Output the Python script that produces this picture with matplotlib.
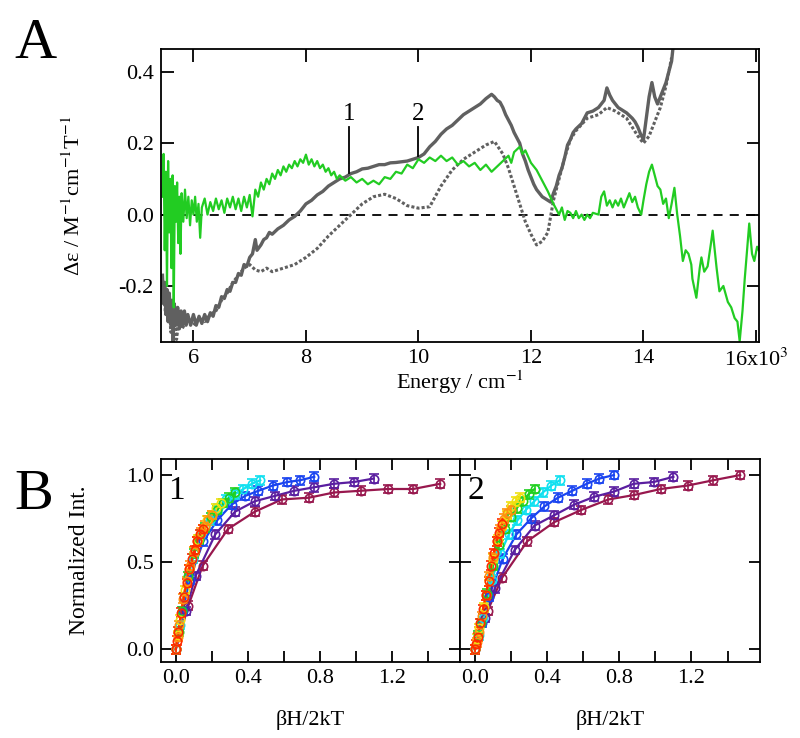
import matplotlib
matplotlib.use("Agg")
import matplotlib.pyplot as plt
from matplotlib.ticker import MultipleLocator

plt.rcParams['font.family'] = ['Liberation Serif', 'DejaVu Serif']
plt.rcParams['mathtext.fontset'] = 'stix'

# ---- panel A: MCD spectra, (energy / 10^3 cm-1, delta eps) pairs ----
solid_pts = [(5.45, -0.17), (5.47, -0.25), (5.49, -0.19), (5.51, -0.28), (5.53, -0.21),
             (5.55, -0.30), (5.57, -0.22), (5.6, -0.31), (5.62, -0.24), (5.64, -0.36),
             (5.66, -0.25), (5.69, -0.31), (5.72, -0.26), (5.75, -0.32), (5.78, -0.27),
             (5.81, -0.31), (5.84, -0.27), (5.87, -0.31), (5.9, -0.28), (5.95, -0.31),
             (6.0, -0.28), (6.05, -0.31), (6.1, -0.285), (6.15, -0.305), (6.2, -0.28),
             (6.25, -0.30), (6.3, -0.275), (6.35, -0.285), (6.4, -0.255), (6.45, -0.26),
             (6.5, -0.23), (6.55, -0.235), (6.6, -0.21), (6.65, -0.215), (6.7, -0.19),
             (6.75, -0.19), (6.8, -0.165), (6.85, -0.17), (6.9, -0.14), (6.95, -0.145),
             (7.0, -0.12), (7.05, -0.11), (7.1, -0.07), (7.13, -0.10), (7.2, -0.085),
             (7.25, -0.07), (7.3, -0.065), (7.35, -0.05), (7.4, -0.055), (7.5, -0.04),
             (7.6, -0.03), (7.7, -0.015), (7.8, -0.005), (7.9, 0.01), (8.0, 0.03),
             (8.1, 0.04), (8.2, 0.055), (8.3, 0.065), (8.4, 0.08), (8.5, 0.09),
             (8.6, 0.10), (8.7, 0.105), (8.8, 0.115), (8.9, 0.12), (9.0, 0.128),
             (9.1, 0.13), (9.2, 0.135), (9.3, 0.14), (9.4, 0.14), (9.5, 0.145),
             (9.6, 0.146), (9.7, 0.148), (9.8, 0.15), (9.9, 0.155), (10.0, 0.16),
             (10.1, 0.17), (10.2, 0.19), (10.3, 0.205), (10.4, 0.225), (10.5, 0.24),
             (10.6, 0.25), (10.7, 0.265), (10.8, 0.28), (10.9, 0.29), (11.0, 0.30),
             (11.1, 0.31), (11.2, 0.325), (11.3, 0.337), (11.35, 0.33), (11.4, 0.32),
             (11.45, 0.315), (11.5, 0.30), (11.55, 0.28), (11.6, 0.265), (11.65, 0.25),
             (11.7, 0.23), (11.75, 0.215), (11.8, 0.20), (11.85, 0.17), (11.9, 0.15),
             (11.95, 0.125), (12.0, 0.105), (12.05, 0.085), (12.1, 0.07), (12.15, 0.06),
             (12.2, 0.05), (12.25, 0.045), (12.3, 0.04), (12.35, 0.035), (12.4, 0.06),
             (12.45, 0.08), (12.5, 0.11), (12.55, 0.13), (12.6, 0.16), (12.65, 0.195),
             (12.7, 0.21), (12.75, 0.23), (12.8, 0.24), (12.9, 0.255), (12.95, 0.27),
             (13.0, 0.285), (13.1, 0.29), (13.2, 0.30), (13.25, 0.31), (13.3, 0.32),
             (13.35, 0.355), (13.4, 0.335), (13.45, 0.32), (13.5, 0.31), (13.55, 0.30),
             (13.6, 0.295), (13.7, 0.285), (13.8, 0.27), (13.85, 0.26), (13.9, 0.245),
             (13.95, 0.225), (14.0, 0.21), (14.05, 0.27), (14.1, 0.33), (14.15, 0.37),
             (14.2, 0.33), (14.25, 0.31), (14.3, 0.33), (14.35, 0.35), (14.4, 0.37),
             (14.45, 0.40), (14.5, 0.43), (14.52, 0.46)]

dotted_pts = [(5.45, -0.19), (5.5, -0.27), (5.55, -0.23), (5.6, -0.33), (5.65, -0.26),
              (5.7, -0.35), (5.75, -0.28), (5.8, -0.32), (5.9, -0.29), (6.0, -0.31),
              (6.1, -0.29), (6.2, -0.30), (6.3, -0.28), (6.4, -0.27), (6.5, -0.24),
              (6.6, -0.22), (6.7, -0.19), (6.8, -0.17), (6.9, -0.15), (7.0, -0.14),
              (7.1, -0.155), (7.2, -0.16), (7.3, -0.15), (7.4, -0.16), (7.5, -0.155),
              (7.6, -0.15), (7.7, -0.145), (7.8, -0.14), (7.9, -0.13), (8.0, -0.12),
              (8.2, -0.095), (8.4, -0.06), (8.6, -0.03), (8.8, 0.0), (9.0, 0.03),
              (9.2, 0.05), (9.4, 0.057), (9.6, 0.045), (9.8, 0.025), (10.0, 0.018),
              (10.2, 0.022), (10.4, 0.08), (10.6, 0.125), (10.8, 0.155), (11.0, 0.175),
              (11.2, 0.195), (11.35, 0.205), (11.5, 0.17), (11.6, 0.13), (11.7, 0.08),
              (11.8, 0.03), (11.9, -0.02), (12.0, -0.055), (12.1, -0.085), (12.2, -0.075),
              (12.3, -0.05), (12.4, 0.04), (12.5, 0.10), (12.6, 0.16), (12.7, 0.21),
              (12.8, 0.235), (13.0, 0.27), (13.2, 0.28), (13.35, 0.30), (13.5, 0.29),
              (13.7, 0.27), (13.9, 0.22), (14.0, 0.20), (14.1, 0.22), (14.2, 0.26),
              (14.3, 0.30), (14.4, 0.36), (14.5, 0.44)]

green_pts = [(5.45, 0.05), (5.47, 0.17), (5.49, -0.10), (5.51, 0.12), (5.53, -0.20),
             (5.55, 0.15), (5.57, -0.05), (5.59, 0.10), (5.61, -0.15), (5.63, 0.11),
             (5.65, -0.26), (5.67, 0.08), (5.69, -0.02), (5.71, 0.09), (5.73, -0.08),
             (5.75, 0.05), (5.77, -0.11), (5.79, 0.06), (5.82, -0.02), (5.85, 0.07),
             (5.88, -0.01), (5.91, 0.05), (5.94, -0.03), (5.97, 0.04), (6.0, 0.0),
             (6.03, 0.05), (6.06, -0.02), (6.09, 0.03), (6.12, -0.065), (6.15, 0.02),
             (6.2, 0.045), (6.25, 0.0), (6.3, 0.035), (6.35, 0.01), (6.4, 0.045),
             (6.45, 0.015), (6.5, 0.04), (6.55, 0.005), (6.6, 0.045), (6.65, 0.02),
             (6.7, 0.05), (6.75, 0.015), (6.8, 0.045), (6.85, 0.01), (6.9, 0.05),
             (6.95, 0.02), (7.0, 0.055), (7.05, -0.005), (7.1, 0.07), (7.15, 0.05),
             (7.2, 0.09), (7.25, 0.07), (7.3, 0.10), (7.35, 0.085), (7.4, 0.115),
             (7.45, 0.10), (7.5, 0.125), (7.55, 0.11), (7.6, 0.135), (7.65, 0.12),
             (7.7, 0.14), (7.75, 0.13), (7.8, 0.15), (7.85, 0.135), (7.9, 0.155),
             (7.95, 0.145), (8.0, 0.168), (8.05, 0.14), (8.1, 0.155), (8.15, 0.135),
             (8.2, 0.15), (8.25, 0.13), (8.3, 0.14), (8.35, 0.12), (8.4, 0.13),
             (8.45, 0.11), (8.5, 0.12), (8.55, 0.10), (8.6, 0.11), (8.7, 0.095),
             (8.8, 0.105), (8.9, 0.09), (9.0, 0.10), (9.1, 0.085), (9.2, 0.095),
             (9.3, 0.085), (9.4, 0.105), (9.5, 0.10), (9.6, 0.12), (9.7, 0.115),
             (9.8, 0.14), (9.9, 0.13), (10.0, 0.155), (10.1, 0.145), (10.2, 0.16),
             (10.3, 0.15), (10.4, 0.165), (10.5, 0.15), (10.6, 0.16), (10.7, 0.14),
             (10.8, 0.15), (10.9, 0.135), (11.0, 0.145), (11.1, 0.125), (11.2, 0.14),
             (11.3, 0.12), (11.4, 0.135), (11.5, 0.15), (11.6, 0.165), (11.65, 0.145),
             (11.7, 0.175), (11.8, 0.19), (11.85, 0.17), (11.9, 0.18), (12.0, 0.145),
             (12.1, 0.125), (12.2, 0.095), (12.3, 0.065), (12.4, 0.03), (12.45, 0.015),
             (12.5, 0.0), (12.55, 0.02), (12.6, -0.015), (12.65, 0.01), (12.7, 0.005),
             (12.75, -0.01), (12.8, 0.01), (12.85, -0.01), (12.9, 0.0), (12.95, -0.015),
             (13.0, 0.0), (13.05, -0.01), (13.1, 0.005), (13.2, 0.0), (13.25, 0.05),
             (13.3, 0.065), (13.35, 0.025), (13.4, 0.04), (13.45, 0.02), (13.5, 0.04),
             (13.55, 0.025), (13.6, 0.045), (13.65, 0.02), (13.7, 0.04), (13.75, 0.06),
             (13.8, 0.035), (13.85, 0.05), (13.9, 0.02), (13.96, 0.0), (14.0, 0.04),
             (14.05, 0.085), (14.1, 0.12), (14.15, 0.14), (14.2, 0.11), (14.25, 0.08),
             (14.3, 0.07), (14.35, 0.03), (14.4, 0.045), (14.45, -0.01), (14.5, 0.03),
             (14.55, 0.075), (14.6, 0.0), (14.65, -0.06), (14.7, -0.13), (14.75, -0.10),
             (14.8, -0.11), (14.85, -0.14), (14.87, -0.18), (14.94, -0.233), (15.0, -0.15),
             (15.03, -0.12), (15.08, -0.16), (15.14, -0.145), (15.2, -0.08), (15.23, -0.045),
             (15.3, -0.15), (15.35, -0.215), (15.42, -0.20), (15.5, -0.245), (15.56, -0.26),
             (15.62, -0.29), (15.67, -0.30), (15.71, -0.355), (15.76, -0.27), (15.8, -0.18),
             (15.88, -0.025), (15.93, -0.11), (15.97, -0.13), (16.02, -0.09), (16.05, -0.10)]

# ---- panel B: saturation curves, x = bH/2kT (same fields/temperatures for both bands) ----
x_red = [0, 0.0075, 0.015, 0.03, 0.045, 0.06, 0.075, 0.09, 0.105, 0.12, 0.135, 0.15]
x_orange = [0, 0.01, 0.02, 0.04, 0.06, 0.08, 0.10, 0.12, 0.14, 0.16, 0.18, 0.20]
x_yellow = [0, 0.0125, 0.025, 0.05, 0.075, 0.10, 0.125, 0.15, 0.175, 0.20, 0.225, 0.25]
x_green = [0, 0.0165, 0.033, 0.066, 0.099, 0.132, 0.165, 0.198, 0.231, 0.264, 0.297, 0.33]
x_cyan = [0, 0.0235, 0.047, 0.094, 0.141, 0.188, 0.235, 0.282, 0.329, 0.376, 0.423, 0.47]
x_blue = [0, 0.04, 0.077, 0.154, 0.23, 0.31, 0.385, 0.46, 0.54, 0.62, 0.69, 0.77]
x_purple = [0, 0.055, 0.11, 0.22, 0.33, 0.44, 0.55, 0.66, 0.77, 0.88, 0.99, 1.10]
x_maroon = [0, 0.07, 0.15, 0.29, 0.44, 0.59, 0.74, 0.88, 1.03, 1.18, 1.32, 1.47]

b1_red = [0, 0.05, 0.10, 0.21, 0.30, 0.38, 0.46, 0.52, 0.57, 0.62, 0.66, 0.69]
b1_orange = [0, 0.07, 0.14, 0.29, 0.39, 0.48, 0.56, 0.62, 0.67, 0.71, 0.74, 0.77]
b1_yellow = [0, 0.08, 0.17, 0.34, 0.46, 0.56, 0.63, 0.69, 0.74, 0.77, 0.81, 0.84]
b1_green = [0, 0.10, 0.22, 0.42, 0.55, 0.63, 0.70, 0.76, 0.80, 0.84, 0.87, 0.90]
b1_cyan = [0, 0.14, 0.30, 0.52, 0.66, 0.74, 0.81, 0.86, 0.89, 0.92, 0.95, 0.97]
b1_blue = [0, 0.22, 0.40, 0.62, 0.74, 0.83, 0.88, 0.91, 0.94, 0.96, 0.97, 0.99]
b1_purple = [0, 0.22, 0.42, 0.66, 0.79, 0.85, 0.88, 0.91, 0.93, 0.95, 0.96, 0.98]
b1_maroon = [0, 0.25, 0.48, 0.69, 0.79, 0.86, 0.87, 0.90, 0.91, 0.92, 0.92, 0.95]

b2_red = [0, 0.03, 0.07, 0.15, 0.23, 0.31, 0.39, 0.48, 0.55, 0.62, 0.67, 0.72]
b2_orange = [0, 0.04, 0.10, 0.19, 0.31, 0.42, 0.53, 0.62, 0.69, 0.75, 0.78, 0.80]
b2_yellow = [0, 0.06, 0.12, 0.24, 0.39, 0.52, 0.63, 0.71, 0.77, 0.82, 0.85, 0.87]
b2_green = [0, 0.08, 0.15, 0.32, 0.48, 0.60, 0.69, 0.76, 0.81, 0.85, 0.89, 0.92]
b2_cyan = [0, 0.08, 0.18, 0.40, 0.55, 0.66, 0.74, 0.80, 0.85, 0.90, 0.94, 0.97]
b2_blue = [0, 0.15, 0.30, 0.52, 0.66, 0.75, 0.82, 0.87, 0.91, 0.95, 0.98, 1.00]
b2_purple = [0, 0.18, 0.35, 0.57, 0.71, 0.77, 0.83, 0.875, 0.905, 0.95, 0.96, 0.99]
b2_maroon = [0, 0.22, 0.41, 0.62, 0.73, 0.80, 0.86, 0.885, 0.92, 0.94, 0.97, 1.00]

err = 0.025
colors = ['#98184e', '#5a1ea0', '#1a44f0', '#10e0f0', '#20d020', '#f0e010', '#ff9010', '#ff2a00']
xs_all = [x_maroon, x_purple, x_blue, x_cyan, x_green, x_yellow, x_orange, x_red]
band1 = [b1_maroon, b1_purple, b1_blue, b1_cyan, b1_green, b1_yellow, b1_orange, b1_red]
band2 = [b2_maroon, b2_purple, b2_blue, b2_cyan, b2_green, b2_yellow, b2_orange, b2_red]

FS = 16
fig = plt.figure(figsize=(8, 7.38), dpi=100)

gray = '#606060'
axA = fig.add_axes([0.201, 0.5366, 0.7475, 0.397])
axA.axhline(0, color='black', lw=1.3, ls=(0, (5, 4)), zorder=1)
e, v = zip(*dotted_pts)
axA.plot(e, v, color=gray, lw=2.2, ls=(0, (1.0, 0.7)))
e, v = zip(*solid_pts)
axA.plot(e, v, color=gray, lw=2.4)
e, v = zip(*green_pts)
axA.plot(e, v, color='#22cc22', lw=1.6)
axA.set_xlim(5.42, 16.05)
axA.set_ylim(-0.357, 0.464)
axA.set_xticks([6, 8, 10, 12, 14, 16])
axA.set_xticklabels(['6', '8', '10', '12', '14', '16x10$^3$'])
axA.set_yticks([-0.2, 0.0, 0.2, 0.4])
axA.set_yticklabels(['-0.2', '0.0', '0.2', '0.4'])
axA.tick_params(direction='in', top=True, right=True, length=9, width=1.3,
                labelsize=FS, pad=5)
for s in axA.spines.values():
    s.set_linewidth(1.3)
axA.set_xlabel('Energy / cm$^{-1}$', fontsize=FS, labelpad=-2)
axA.set_ylabel('\u0394\u03b5 / M$^{-1}$cm$^{-1}$T$^{-1}$', fontsize=FS, labelpad=24)

# band markers
for xe, lo, name in [(8.77, 0.117, '1'), (10.0, 0.164, '2')]:
    axA.plot([xe, xe], [lo, 0.246], color='black', lw=1.3)
    axA.text(xe, 0.25, name, ha='center', va='bottom', fontsize=18)

fig.text(0.018, 0.975, 'A', fontsize=42, va='top')
fig.text(0.018, 0.365, 'B', fontsize=42, va='top')

axes_b = [fig.add_axes([0.201, 0.103, 0.374, 0.275]),
          fig.add_axes([0.575, 0.103, 0.375, 0.275])]
for ax, band, tag in zip(axes_b, [band1, band2], ['1', '2']):
    for xv, yv, c in zip(xs_all, band, colors):
        ax.plot(xv, yv, color=c, lw=1.6)
        ax.errorbar(xv, yv, yerr=err, fmt='o', color=c, mfc='none', ms=6,
                    mew=1.2, elinewidth=1.2, capsize=3.5)
    ax.set_xlim(-0.083, 1.58)
    ax.set_ylim(-0.073, 1.092)
    ax.xaxis.set_minor_locator(MultipleLocator(0.2))
    ax.set_yticks([0.0, 0.5, 1.0])
    ax.set_xticks([0.0, 0.4, 0.8, 1.2])
    ax.set_xticklabels(['0.0', '0.4', '0.8', '1.2'])
    ax.tick_params(which='both', direction='in', top=True, right=True, length=8,
                   width=1.3, labelsize=FS, pad=5)
    for s in ax.spines.values():
        s.set_linewidth(1.3)
    ax.set_xlabel('\u03b2H/2kT', fontsize=FS, labelpad=16)
    ax.text(-0.04, 1.0, tag, fontsize=24, va='top', ha='left')

axes_b[0].set_yticklabels(['0.0', '0.5', '1.0'])
axes_b[1].set_yticklabels([])
axes_b[0].set_ylabel('Normalized Int.', fontsize=FS + 1, labelpad=26)

fig.savefig('out.png', dpi=100)
